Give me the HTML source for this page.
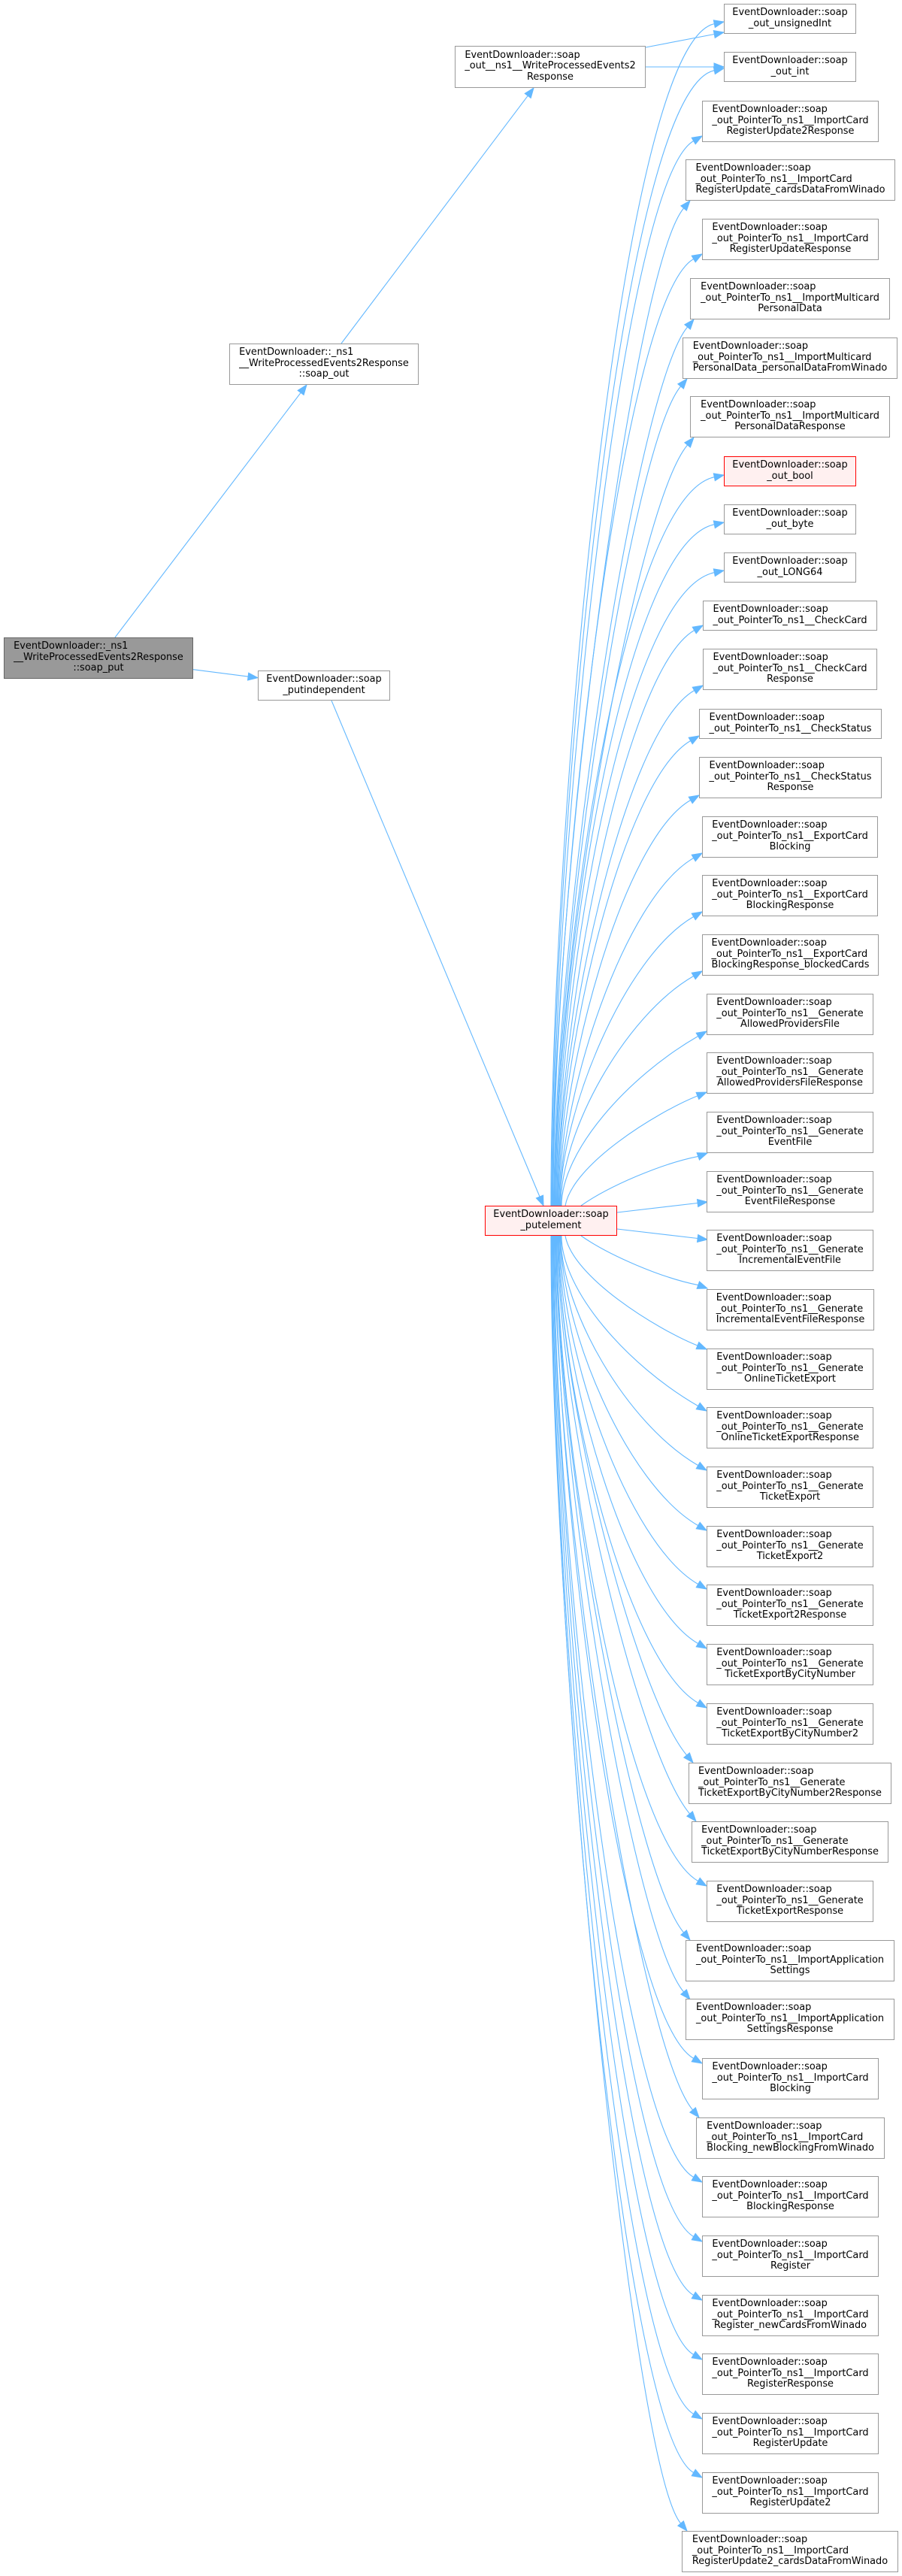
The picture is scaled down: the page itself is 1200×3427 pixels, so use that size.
<!DOCTYPE html>
<html><head><meta charset="utf-8"><style>
html,body{margin:0;padding:0;background:#fff;}
body{width:1200px;height:3427px;position:relative;overflow:hidden;}
svg{position:absolute;left:0;top:0;}
.n{position:absolute;box-sizing:border-box;border:1px solid #999;background:#fff;display:flex;align-items:center;justify-content:center;font-family:"DejaVu Sans","Liberation Sans",sans-serif;font-size:12.9px;line-height:14.5px;color:#000;white-space:nowrap;padding-bottom:1px;}
.h2{height:40px}.h3{height:55px}
.r{border-color:#f00;background:#fff0f0}
.g{border-color:#666;background:#999}
.lb{display:inline-block;text-align:left}
.lb div:last-child{text-align:center}
</style></head><body>
<svg width="1200" height="3427" viewBox="0 0 1200 3427">
<g fill="none" stroke="#63b8ff" stroke-width="1.1">
<path d="M153,848 L400.1,522.4"/>
<path d="M454,457 L702.2,127.4"/>
<path d="M859,63 L950.2,45.5"/>
<path d="M859,89 L950,89"/>
<path d="M257,890.7 L330.1,900.05"/>
<path d="M441,932 L718,1592"/>
<path d="M733,1604 C733,1101 822.8,58.8 950.3,31.7"/>
<path d="M734,1604 C734,1120.7 823.4,120.7 950.3,93.7"/>
<path d="M735,1604 C735,1150.7 825.2,243.8 922.7,187.5"/>
<path d="M735,1604 C735,1179.4 842.2,357.3 909.6,277"/>
<path d="M736,1604 C736,1201 825.7,400.5 922.7,344.5"/>
<path d="M737,1604 C737,1230 846.1,516.7 914.6,435"/>
<path d="M738,1604 C738,1255.2 840.9,591.1 905.6,514"/>
<path d="M738,1604 C738,1280.2 846.5,673.2 914.6,592"/>
<path d="M739,1604 C739,1293.8 826.3,661.1 950.3,634.7"/>
<path d="M740,1604 C740,1314 826.9,723.9 950.3,697.7"/>
<path d="M741,1604 C741,1334.5 827.5,787.8 950.3,761.7"/>
<path d="M742,1604 C742,1359 829.3,893 923.7,838.5"/>
<path d="M742,1604 C742,1384.6 829.3,973 923.7,918.5"/>
<path d="M743,1604 C743,1406.1 827.4,1038.2 918.7,985.5"/>
<path d="M744,1604 C744,1431.4 827.9,1116.9 918.7,1064.5"/>
<path d="M745,1604 C745,1456 830.4,1194.8 922.7,1141.5"/>
<path d="M745,1604 C745,1481 830.4,1272.8 922.7,1219.5"/>
<path d="M746,1604 C746,1506.2 830.9,1351.5 922.7,1298.5"/>
<path d="M747,1604 C747,1531.8 834.3,1433 928.7,1378.5"/>
<path d="M752,1604 C762,1549 872.3,1480.4 928,1457.9"/>
<path d="M773,1604 C810,1578 880,1548 928.8,1538.4"/>
<path d="M821,1613 L928.1,1600.5"/>
<path d="M821,1635 L928.1,1647.5"/>
<path d="M773,1644 C810,1670 880,1700 928.8,1709.6"/>
<path d="M752,1644 C762,1699 872.3,1767.6 928,1790.1"/>
<path d="M747,1644 C747,1716.5 834.3,1816 928.7,1870.5"/>
<path d="M746,1644 C746,1741.8 833.8,1894.7 928.7,1949.5"/>
<path d="M746,1644 C746,1767.4 833.8,1974.7 928.7,2029.5"/>
<path d="M745,1644 C745,1792.3 833.3,2052.4 928.7,2107.5"/>
<path d="M744,1644 C744,1817.6 832.7,2131.1 928.7,2186.5"/>
<path d="M743,1644 C743,1842.9 832.2,2209.8 928.7,2265.5"/>
<path d="M743,1644 C743,1865.1 847.8,2256.6 913.6,2335"/>
<path d="M742,1644 C742,1890.1 849.8,2332.3 917.6,2413"/>
<path d="M741,1644 C741,1918.7 831.2,2446.2 928.7,2502.5"/>
<path d="M740,1644 C740,1940.6 844.1,2493 909.6,2571"/>
<path d="M740,1644 C740,1965.9 844.1,2572 909.6,2650"/>
<path d="M739,1644 C739,1994.2 827.3,2683.4 922.7,2738.5"/>
<path d="M738,1644 C738,2016.2 850.7,2722.6 921.6,2807"/>
<path d="M737,1644 C737,2044.8 826.2,2840.8 922.7,2896.5"/>
<path d="M737,1644 C737,2070.1 826.2,2919.8 922.7,2975.5"/>
<path d="M736,1644 C736,2095 825.7,2997.5 922.7,3053.5"/>
<path d="M735,1644 C735,2120.3 825.2,3076.2 922.7,3132.5"/>
<path d="M734,1644 C734,2145.6 824.7,3154.9 922.7,3211.5"/>
<path d="M734,1644 C734,2170.6 824.7,3232.9 922.7,3289.5"/>
<path d="M733,1644 C733,2192.2 839,3277.6 905.6,3357"/>
</g>
<g fill="#63b8ff" stroke="#63b8ff" stroke-width="1">
<polygon points="408,512 404.1,525.4 396.1,519.4"/>
<polygon points="710,117 706.2,130.4 698.2,124.4"/>
<polygon points="963,43 951.2,50.4 949.3,40.6"/>
<polygon points="963,89 950,94 950,84"/>
<polygon points="343,901.7 329.5,905 330.7,895.1"/>
<polygon points="723,1604 713.4,1593.9 722.6,1590.1"/>
<polygon points="963,29 951.3,36.6 949.3,26.8"/>
<polygon points="963,91 951.3,98.6 949.3,88.8"/>
<polygon points="934,181 925.2,191.8 920.2,183.2"/>
<polygon points="918,267 913.4,280.2 905.8,273.8"/>
<polygon points="934,338 925.2,348.8 920.2,340.2"/>
<polygon points="923,425 918.4,438.2 910.8,431.8"/>
<polygon points="914,504 909.4,517.2 901.8,510.8"/>
<polygon points="923,582 918.4,595.2 910.8,588.8"/>
<polygon points="963,632 951.3,639.6 949.3,629.8"/>
<polygon points="963,695 951.3,702.6 949.3,692.8"/>
<polygon points="963,759 951.3,766.6 949.3,756.8"/>
<polygon points="935,832 926.2,842.8 921.2,834.2"/>
<polygon points="935,912 926.2,922.8 921.2,914.2"/>
<polygon points="930,979 921.2,989.8 916.2,981.2"/>
<polygon points="930,1058 921.2,1068.8 916.2,1060.2"/>
<polygon points="934,1135 925.2,1145.8 920.2,1137.2"/>
<polygon points="934,1213 925.2,1223.8 920.2,1215.2"/>
<polygon points="934,1292 925.2,1302.8 920.2,1294.2"/>
<polygon points="940,1372 931.2,1382.8 926.2,1374.2"/>
<polygon points="940,1453 929.8,1462.5 926.1,1453.3"/>
<polygon points="941,1534 930.5,1543.1 927.1,1533.7"/>
<polygon points="941,1599 928.7,1605.5 927.5,1595.5"/>
<polygon points="941,1649 927.5,1652.5 928.7,1642.5"/>
<polygon points="941,1714 927.1,1714.3 930.5,1704.9"/>
<polygon points="940,1795 926.1,1794.7 929.8,1785.5"/>
<polygon points="940,1877 926.2,1874.8 931.2,1866.2"/>
<polygon points="940,1956 926.2,1953.8 931.2,1945.2"/>
<polygon points="940,2036 926.2,2033.8 931.2,2025.2"/>
<polygon points="940,2114 926.2,2111.8 931.2,2103.2"/>
<polygon points="940,2193 926.2,2190.8 931.2,2182.2"/>
<polygon points="940,2272 926.2,2269.8 931.2,2261.2"/>
<polygon points="922,2345 909.8,2338.2 917.4,2331.8"/>
<polygon points="926,2423 913.8,2416.2 921.4,2409.8"/>
<polygon points="940,2509 926.2,2506.8 931.2,2498.2"/>
<polygon points="918,2581 905.8,2574.2 913.4,2567.8"/>
<polygon points="918,2660 905.8,2653.2 913.4,2646.8"/>
<polygon points="934,2745 920.2,2742.8 925.2,2734.2"/>
<polygon points="930,2817 917.8,2810.2 925.4,2803.8"/>
<polygon points="934,2903 920.2,2900.8 925.2,2892.2"/>
<polygon points="934,2982 920.2,2979.8 925.2,2971.2"/>
<polygon points="934,3060 920.2,3057.8 925.2,3049.2"/>
<polygon points="934,3139 920.2,3136.8 925.2,3128.2"/>
<polygon points="934,3218 920.2,3215.8 925.2,3207.2"/>
<polygon points="934,3296 920.2,3293.8 925.2,3285.2"/>
<polygon points="914,3367 901.8,3360.2 909.4,3353.8"/>
</g>
</svg>

<div class="n h3 g" style="left:5px;top:848px;width:252px"><div class="lb"><div>EventDownloader::_ns1</div><div>__WriteProcessedEvents2Response</div><div>::soap_put</div></div></div>
<div class="n h3" style="left:305px;top:457px;width:252px"><div class="lb"><div>EventDownloader::_ns1</div><div>__WriteProcessedEvents2Response</div><div>::soap_out</div></div></div>
<div class="n h3" style="left:605px;top:61px;width:254px;height:56px"><div class="lb"><div>EventDownloader::soap</div><div>_out__ns1__WriteProcessedEvents2</div><div>Response</div></div></div>
<div class="n h2" style="left:343px;top:892px;width:176px"><div class="lb"><div>EventDownloader::soap</div><div>_putindependent</div></div></div>
<div class="n h2 r" style="left:645px;top:1604px;width:176px"><div class="lb"><div>EventDownloader::soap</div><div>_putelement</div></div></div>

<div class="n h2" style="left:963px;top:5px;width:176px"><div class="lb"><div>EventDownloader::soap</div><div>_out_unsignedInt</div></div></div>
<div class="n h2" style="left:963px;top:69px;width:176px"><div class="lb"><div>EventDownloader::soap</div><div>_out_int</div></div></div>
<div class="n h3" style="left:934px;top:134px;width:235px"><div class="lb"><div>EventDownloader::soap</div><div>_out_PointerTo_ns1__ImportCard</div><div>RegisterUpdate2Response</div></div></div>
<div class="n h3" style="left:912px;top:212px;width:279px"><div class="lb"><div>EventDownloader::soap</div><div>_out_PointerTo_ns1__ImportCard</div><div>RegisterUpdate_cardsDataFromWinado</div></div></div>
<div class="n h3" style="left:934px;top:291px;width:235px"><div class="lb"><div>EventDownloader::soap</div><div>_out_PointerTo_ns1__ImportCard</div><div>RegisterUpdateResponse</div></div></div>
<div class="n h3" style="left:918px;top:370px;width:266px"><div class="lb"><div>EventDownloader::soap</div><div>_out_PointerTo_ns1__ImportMulticard</div><div>PersonalData</div></div></div>
<div class="n h3" style="left:908px;top:449px;width:286px"><div class="lb"><div>EventDownloader::soap</div><div>_out_PointerTo_ns1__ImportMulticard</div><div>PersonalData_personalDataFromWinado</div></div></div>
<div class="n h3" style="left:918px;top:527px;width:266px"><div class="lb"><div>EventDownloader::soap</div><div>_out_PointerTo_ns1__ImportMulticard</div><div>PersonalDataResponse</div></div></div>
<div class="n h2 r" style="left:963px;top:607px;width:176px"><div class="lb"><div>EventDownloader::soap</div><div>_out_bool</div></div></div>
<div class="n h2" style="left:963px;top:671px;width:176px"><div class="lb"><div>EventDownloader::soap</div><div>_out_byte</div></div></div>
<div class="n h2" style="left:963px;top:735px;width:176px"><div class="lb"><div>EventDownloader::soap</div><div>_out_LONG64</div></div></div>
<div class="n h2" style="left:935px;top:799px;width:232px"><div class="lb"><div>EventDownloader::soap</div><div>_out_PointerTo_ns1__CheckCard</div></div></div>
<div class="n h3" style="left:935px;top:863px;width:232px"><div class="lb"><div>EventDownloader::soap</div><div>_out_PointerTo_ns1__CheckCard</div><div>Response</div></div></div>
<div class="n h2" style="left:930px;top:943px;width:243px"><div class="lb"><div>EventDownloader::soap</div><div>_out_PointerTo_ns1__CheckStatus</div></div></div>
<div class="n h3" style="left:930px;top:1007px;width:243px"><div class="lb"><div>EventDownloader::soap</div><div>_out_PointerTo_ns1__CheckStatus</div><div>Response</div></div></div>
<div class="n h3" style="left:934px;top:1086px;width:234px"><div class="lb"><div>EventDownloader::soap</div><div>_out_PointerTo_ns1__ExportCard</div><div>Blocking</div></div></div>
<div class="n h3" style="left:934px;top:1164px;width:234px"><div class="lb"><div>EventDownloader::soap</div><div>_out_PointerTo_ns1__ExportCard</div><div>BlockingResponse</div></div></div>
<div class="n h3" style="left:934px;top:1243px;width:235px"><div class="lb"><div>EventDownloader::soap</div><div>_out_PointerTo_ns1__ExportCard</div><div>BlockingResponse_blockedCards</div></div></div>
<div class="n h3" style="left:940px;top:1322px;width:222px"><div class="lb"><div>EventDownloader::soap</div><div>_out_PointerTo_ns1__Generate</div><div>AllowedProvidersFile</div></div></div>
<div class="n h3" style="left:940px;top:1400px;width:222px"><div class="lb"><div>EventDownloader::soap</div><div>_out_PointerTo_ns1__Generate</div><div>AllowedProvidersFileResponse</div></div></div>
<div class="n h3" style="left:940px;top:1479px;width:222px"><div class="lb"><div>EventDownloader::soap</div><div>_out_PointerTo_ns1__Generate</div><div>EventFile</div></div></div>
<div class="n h3" style="left:940px;top:1558px;width:222px"><div class="lb"><div>EventDownloader::soap</div><div>_out_PointerTo_ns1__Generate</div><div>EventFileResponse</div></div></div>
<div class="n h3" style="left:940px;top:1636px;width:222px"><div class="lb"><div>EventDownloader::soap</div><div>_out_PointerTo_ns1__Generate</div><div>IncrementalEventFile</div></div></div>
<div class="n h3" style="left:940px;top:1715px;width:223px"><div class="lb"><div>EventDownloader::soap</div><div>_out_PointerTo_ns1__Generate</div><div>IncrementalEventFileResponse</div></div></div>
<div class="n h3" style="left:940px;top:1794px;width:222px"><div class="lb"><div>EventDownloader::soap</div><div>_out_PointerTo_ns1__Generate</div><div>OnlineTicketExport</div></div></div>
<div class="n h3" style="left:940px;top:1872px;width:222px"><div class="lb"><div>EventDownloader::soap</div><div>_out_PointerTo_ns1__Generate</div><div>OnlineTicketExportResponse</div></div></div>
<div class="n h3" style="left:940px;top:1951px;width:222px"><div class="lb"><div>EventDownloader::soap</div><div>_out_PointerTo_ns1__Generate</div><div>TicketExport</div></div></div>
<div class="n h3" style="left:940px;top:2030px;width:222px"><div class="lb"><div>EventDownloader::soap</div><div>_out_PointerTo_ns1__Generate</div><div>TicketExport2</div></div></div>
<div class="n h3" style="left:940px;top:2108px;width:222px"><div class="lb"><div>EventDownloader::soap</div><div>_out_PointerTo_ns1__Generate</div><div>TicketExport2Response</div></div></div>
<div class="n h3" style="left:940px;top:2187px;width:222px"><div class="lb"><div>EventDownloader::soap</div><div>_out_PointerTo_ns1__Generate</div><div>TicketExportByCityNumber</div></div></div>
<div class="n h3" style="left:940px;top:2266px;width:222px"><div class="lb"><div>EventDownloader::soap</div><div>_out_PointerTo_ns1__Generate</div><div>TicketExportByCityNumber2</div></div></div>
<div class="n h3" style="left:916px;top:2345px;width:270px"><div class="lb"><div>EventDownloader::soap</div><div>_out_PointerTo_ns1__Generate</div><div>TicketExportByCityNumber2Response</div></div></div>
<div class="n h3" style="left:920px;top:2423px;width:262px"><div class="lb"><div>EventDownloader::soap</div><div>_out_PointerTo_ns1__Generate</div><div>TicketExportByCityNumberResponse</div></div></div>
<div class="n h3" style="left:940px;top:2502px;width:222px"><div class="lb"><div>EventDownloader::soap</div><div>_out_PointerTo_ns1__Generate</div><div>TicketExportResponse</div></div></div>
<div class="n h3" style="left:912px;top:2581px;width:278px"><div class="lb"><div>EventDownloader::soap</div><div>_out_PointerTo_ns1__ImportApplication</div><div>Settings</div></div></div>
<div class="n h3" style="left:912px;top:2659px;width:278px"><div class="lb"><div>EventDownloader::soap</div><div>_out_PointerTo_ns1__ImportApplication</div><div>SettingsResponse</div></div></div>
<div class="n h3" style="left:934px;top:2738px;width:235px"><div class="lb"><div>EventDownloader::soap</div><div>_out_PointerTo_ns1__ImportCard</div><div>Blocking</div></div></div>
<div class="n h3" style="left:926px;top:2817px;width:251px"><div class="lb"><div>EventDownloader::soap</div><div>_out_PointerTo_ns1__ImportCard</div><div>Blocking_newBlockingFromWinado</div></div></div>
<div class="n h3" style="left:934px;top:2895px;width:235px"><div class="lb"><div>EventDownloader::soap</div><div>_out_PointerTo_ns1__ImportCard</div><div>BlockingResponse</div></div></div>
<div class="n h3" style="left:934px;top:2974px;width:235px"><div class="lb"><div>EventDownloader::soap</div><div>_out_PointerTo_ns1__ImportCard</div><div>Register</div></div></div>
<div class="n h3" style="left:934px;top:3053px;width:235px"><div class="lb"><div>EventDownloader::soap</div><div>_out_PointerTo_ns1__ImportCard</div><div>Register_newCardsFromWinado</div></div></div>
<div class="n h3" style="left:934px;top:3131px;width:235px"><div class="lb"><div>EventDownloader::soap</div><div>_out_PointerTo_ns1__ImportCard</div><div>RegisterResponse</div></div></div>
<div class="n h3" style="left:934px;top:3210px;width:235px"><div class="lb"><div>EventDownloader::soap</div><div>_out_PointerTo_ns1__ImportCard</div><div>RegisterUpdate</div></div></div>
<div class="n h3" style="left:934px;top:3289px;width:235px"><div class="lb"><div>EventDownloader::soap</div><div>_out_PointerTo_ns1__ImportCard</div><div>RegisterUpdate2</div></div></div>
<div class="n h3" style="left:907px;top:3367px;width:288px"><div class="lb"><div>EventDownloader::soap</div><div>_out_PointerTo_ns1__ImportCard</div><div>RegisterUpdate2_cardsDataFromWinado</div></div></div>
</body></html>
